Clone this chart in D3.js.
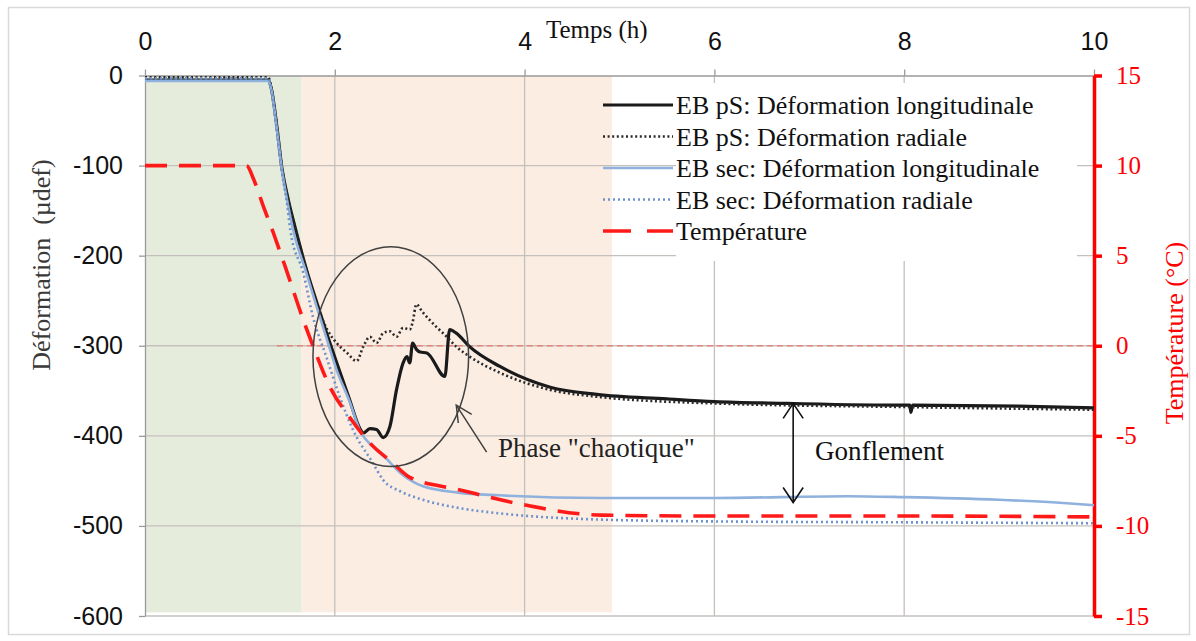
<!DOCTYPE html>
<html>
  <head>
    <meta charset="utf-8">
    <title>Déformation et température</title>
    <script src="https://d3js.org/d3.v7.min.js"></script>
    <style>
      body { margin: 0; background: #fff; }
      svg { display: block; }
      .serif { font-family: "Liberation Serif", "Times New Roman", serif; }
      .sans { font-family: "Liberation Sans", Arial, sans-serif; }
    </style>
  </head>
  <body>
    <svg id="chart" width="1196" height="641"></svg>
    <script>
      // data: [hours, value]
      pSLong = [[0,-5],[1.3,-5],[1.33,-14],[1.39,-57],[1.44,-101],[1.51,-138],[1.6,-176],[1.7,-215],[1.81,-252],
        [1.92,-288],[2.02,-319],[2.15,-358],[2.27,-393],[2.3,-397],[2.37,-392],[2.44,-393],[2.51,-402],[2.58,-390],
        [2.65,-349],[2.72,-319],[2.76,-312],[2.79,-319],[2.82,-297],[2.86,-304],[2.9,-307],[2.97,-308],[3.16,-334],
        [3.21,-282],[3.28,-286],[3.42,-301],[3.74,-323],[4.27,-346],[4.76,-354],[5.5,-359],[6,-362],[6.77,-364],
        [8,-366],[8.06,-366],[8.07,-374],[8.09,-366],[9.2,-367],[10,-369]];
      pSRad = [[0,-2],[1.3,-2],[1.33,-13],[1.39,-56],[1.44,-100],[1.51,-138],[1.6,-176],[1.7,-215],[1.81,-254],
        [1.92,-282],[2.02,-297],[2.13,-308],[2.23,-317],[2.3,-301],[2.37,-290],[2.44,-297],[2.51,-286],[2.58,-284],
        [2.65,-290],[2.72,-280],[2.79,-282],[2.82,-274],[2.86,-254],[2.92,-262],[3.07,-279],[3.18,-290],[3.28,-301],
        [3.42,-312],[3.74,-330],[4.27,-349],[4.8,-357],[6,-364],[8,-368],[10,-371]];
      secLong = [[0,-6],[1.3,-6],[1.33,-15],[1.39,-60],[1.44,-103],[1.5,-140],[1.56,-171],[1.7,-219],[1.81,-257],
        [1.92,-294],[2.02,-327],[2.16,-363],[2.26,-393],[2.4,-412],[2.52,-423],[2.7,-442],[2.93,-456],[3.3,-463],
        [3.73,-466],[4.81,-469],[6,-469],[7.4,-467],[8,-468],[9,-471],[9.6,-474],[10,-477]];
      secRad = [[0,-3],[1.3,-3],[1.33,-15],[1.39,-62],[1.44,-105],[1.5,-145],[1.53,-171],[1.67,-220],[1.77,-268],
        [1.91,-312],[2.05,-356],[2.19,-393],[2.4,-430],[2.51,-449],[2.7,-462],[2.93,-471],[3.3,-480],[3.73,-486],
        [4.81,-493],[6,-495],[8,-496],[10,-497]];
      temperature = [[0,10],[1.07,10],[1.14,9.3],[1.25,7.7],[1.35,6.3],[1.49,4.2],[1.67,1.4],[1.77,0],[1.95,-2.3],
        [2.16,-4],[2.37,-5.4],[2.61,-6.5],[2.79,-7.3],[3.32,-8],[3.92,-8.75],[4.81,-9.4],[6,-9.45],[8,-9.45],[10,-9.5]];
      zeroLine = [[1.39,0],[10,0]];
      // shaded phases (hours)
      zones = [[0,1.65],[1.65,4.92]];
      xTicks = [0,2,4,6,8,10];
      yTicks = [0,-100,-200,-300,-400,-500,-600];
      tTicks = [15,10,5,0,-5,-10,-15];
      seriesNames = ["EB pS: Déformation longitudinale","EB pS: Déformation radiale",
        "EB sec: Déformation longitudinale","EB sec: Déformation radiale","Température"];
      // annotations
      chaosEllipse = {t: 2.59, d: -312, rt: 0.82, rd: 122};
      chaosArrow = [[3.6,-418],[3.28,-366]];
      swell = {t: 6.83, top: -364, bottom: -474};

      svg = d3.select("#chart");
      x = d3.scaleLinear().domain([0,10]).range([145,1094]);
      y = d3.scaleLinear().domain([-600,0]).range([616,75.5]);
      yT = d3.scaleLinear().domain([-15,15]).range([616,75.5]);
      plain = d => String(d);

      // outer frame
      svg.append("rect").attr("x",8.5).attr("y",7.5).attr("width",1181).attr("height",627)
        .attr("fill","#fff").attr("stroke","#d9d9d9").attr("stroke-width",1.5);

      // shaded phases
      zoneColours = ["#e6ecdc","#fcede2"];
      svg.selectAll(".zone").data(zones).join("rect")
        .attr("x", d => x(d[0])).attr("width", d => x(d[1]) - x(d[0]))
        .attr("y", y(0)).attr("height", y(-596) - y(0))
        .attr("fill", (d,i) => zoneColours[i]);

      // gridlines
      grid = svg.append("g").attr("stroke","#c4c0bc").attr("stroke-width",1.3);
      grid.selectAll(".gx").data(xTicks.slice(1,-1)).join("line")
        .attr("x1", d => x(d)).attr("x2", d => x(d)).attr("y1", y(0)).attr("y2", y(-600));
      grid.selectAll(".gy").data(yTicks.slice(1)).join("line")
        .attr("x1", x(0)).attr("x2", x(10)).attr("y1", d => y(d)).attr("y2", d => y(d));

      // legend background hides the gridlines
      svg.append("rect").attr("x",676).attr("y",83).attr("width",401).attr("height",178).attr("fill","#fff");

      // axes
      xAxis = svg.append("g").attr("transform","translate(0," + y(0) + ")")
        .call(d3.axisTop(x).tickValues(xTicks).tickFormat(plain).tickSizeInner(6).tickSizeOuter(0).tickPadding(20));
      yAxis = svg.append("g").attr("transform","translate(" + x(0) + ",0)")
        .call(d3.axisLeft(y).tickValues(yTicks).tickFormat(plain).tickSizeInner(6).tickSizeOuter(0).tickPadding(16));
      [xAxis, yAxis].forEach(function(g) {
        g.select(".domain").attr("stroke","#9a9a9a").attr("stroke-width",1.3);
        g.selectAll(".tick line").attr("stroke","#9a9a9a").attr("stroke-width",1.3);
        g.selectAll("text").attr("class","sans").attr("font-size",25).attr("fill","#111");
      });
      tAxis = svg.append("g").attr("transform","translate(" + x(10) + ",0)")
        .call(d3.axisRight(yT).tickValues(tTicks).tickFormat(plain).tickSizeInner(8).tickSizeOuter(0).tickPadding(14));
      tAxis.select(".domain").attr("stroke","#ff0000").attr("stroke-width",3.5);
      tAxis.selectAll(".tick line").attr("stroke","#ff0000").attr("stroke-width",3.5);
      tAxis.selectAll("text").attr("class","serif").attr("font-size",25).attr("fill","#ff0000");

      // axis titles
      svg.append("text").attr("class","serif").attr("x",546).attr("y",38)
        .attr("font-size",25).attr("fill","#111").text("Temps (h)");
      svg.append("text").attr("class","serif").attr("transform","translate(50,265) rotate(-90)")
        .attr("text-anchor","middle").attr("font-size",26).attr("fill","#3a3a3a").attr("xml:space","preserve")
        .text("Déformation  (µdef)");
      svg.append("text").attr("class","serif").attr("transform","translate(1183,333) rotate(-90)")
        .attr("text-anchor","middle").attr("font-size",26).attr("fill","#ff0000").text("Température (°C)");

      // series
      lineDef = d3.line().x(d => x(d[0])).y(d => y(d[1])).curve(d3.curveMonotoneX);
      lineTemp = d3.line().x(d => x(d[0])).y(d => yT(d[1])).curve(d3.curveMonotoneX);
      svg.append("path").datum(zeroLine).attr("d", lineTemp).attr("fill","none")
        .attr("stroke","#e8847c").attr("stroke-width",1.3).attr("stroke-dasharray","6,4");
      styles = [
        {stroke:"#1a1a1a", width:3.2, dash:null},
        {stroke:"#2a2a2a", width:2.6, dash:"2,2.6"},
        {stroke:"#8fb1dd", width:2.6, dash:null},
        {stroke:"#6e93cc", width:2.6, dash:"2,3"},
        {stroke:"#ff1a1a", width:3.6, dash:"22,12"}
      ];
      series = [pSLong, pSRad, secLong, secRad];
      series.forEach(function(s, i) {
        svg.append("path").datum(s).attr("d", lineDef).attr("fill","none")
          .attr("stroke", styles[i].stroke).attr("stroke-width", styles[i].width)
          .attr("stroke-dasharray", styles[i].dash);
      });
      svg.append("path").datum(temperature).attr("d", lineTemp).attr("fill","none")
        .attr("stroke", styles[4].stroke).attr("stroke-width", styles[4].width)
        .attr("stroke-dasharray", styles[4].dash);

      // legend
      legend = svg.append("g");
      rows = legend.selectAll("g").data(seriesNames).join("g")
        .attr("transform", (d,i) => "translate(603," + (105 + i * 31.5) + ")");
      rows.append("line").attr("x1",0).attr("x2",70).attr("y1",0).attr("y2",0)
        .attr("stroke", (d,i) => styles[i].stroke).attr("stroke-width", (d,i) => styles[i].width)
        .attr("stroke-dasharray", (d,i) => i == 4 ? "28,16" : styles[i].dash);
      rows.append("text").attr("class","serif").attr("x",73).attr("y",9).attr("font-size",26)
        .attr("fill","#111").text(d => d);

      // annotations
      ann = svg.append("g").attr("stroke","#404040").attr("stroke-width",1.5).attr("fill","none");
      ann.append("ellipse").attr("cx", x(chaosEllipse.t)).attr("cy", y(chaosEllipse.d))
        .attr("rx", x(chaosEllipse.rt) - x(0)).attr("ry", y(0) - y(chaosEllipse.rd));
      function arrowHead(tipX, tipY, fromX, fromY, len, half) {
        a = Math.atan2(tipY - fromY, tipX - fromX);
        p1 = [tipX - len * Math.cos(a) + half * Math.sin(a), tipY - len * Math.sin(a) - half * Math.cos(a)];
        p2 = [tipX - len * Math.cos(a) - half * Math.sin(a), tipY - len * Math.sin(a) + half * Math.cos(a)];
        return "M" + p1 + "L" + tipX + "," + tipY + "L" + p2;
      }
      ax0 = x(chaosArrow[0][0]); ay0 = y(chaosArrow[0][1]);
      ax1 = x(chaosArrow[1][0]); ay1 = y(chaosArrow[1][1]);
      ann.append("line").attr("x1", ax0).attr("y1", ay0).attr("x2", ax1).attr("y2", ay1);
      ann.append("path").attr("d", arrowHead(ax1, ay1, ax0, ay0, 16, 8));
      svg.append("text").attr("class","serif").attr("x",498).attr("y",457).attr("font-size",27)
        .attr("fill","#222").text('Phase "chaotique"');
      sx = x(swell.t); sTop = y(swell.top); sBot = y(swell.bottom);
      sw = svg.append("g").attr("stroke","#111").attr("stroke-width",1.6).attr("fill","none");
      sw.append("line").attr("x1", sx).attr("x2", sx).attr("y1", sTop).attr("y2", sBot);
      sw.append("path").attr("d", arrowHead(sx, sTop, sx, sBot, 15, 10));
      sw.append("path").attr("d", arrowHead(sx, sBot, sx, sTop, 15, 10));
      svg.append("text").attr("class","serif").attr("x",815).attr("y",460).attr("font-size",27)
        .attr("fill","#111").text("Gonflement");
    </script>
  </body>
</html>
